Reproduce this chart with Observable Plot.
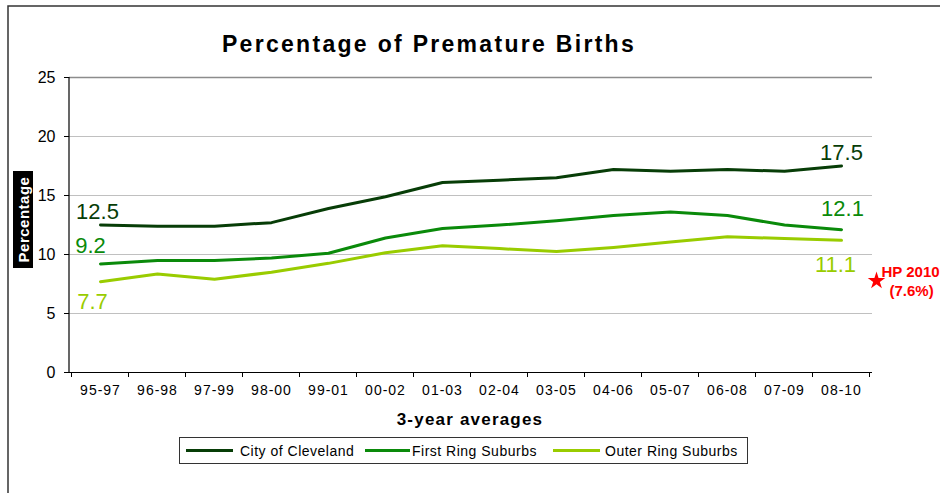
<!DOCTYPE html>
<html>
<head>
<meta charset="utf-8">
<script src="https://cdn.jsdelivr.net/npm/d3@7"></script>
<script src="https://cdn.jsdelivr.net/npm/@observablehq/plot@0.6"></script>
<style>
  html, body { margin: 0; padding: 0; background: #fff; }
  #chart { width: 940px; height: 493px; overflow: hidden; }
</style>
</head>
<body>
<div id="chart"></div>
<script>
const categories = ["95-97","96-98","97-99","98-00","99-01","00-02","01-03","02-04","03-05","04-06","05-07","06-08","07-09","08-10"];
const seriesNames = ["City of Cleveland","First Ring Suburbs","Outer Ring Suburbs"];
const cleveland = [12.5,12.4,12.4,12.7,13.9,14.9,16.1,16.3,16.5,17.2,17.05,17.2,17.05,17.5];
const firstRing = [9.2,9.5,9.5,9.7,10.1,11.4,12.2,12.5,12.85,13.3,13.6,13.3,12.5,12.1];
const outerRing = [7.7,8.35,7.9,8.5,9.25,10.15,10.75,10.5,10.25,10.6,11.05,11.5,11.35,11.2];
const endLabels = [17.5, 12.1, 11.1];
const yTicks = [0,5,10,15,20,25];
const hpTarget = 7.6;
const colors = ["#073d07","#0a8a0a","#99cc00"];

const valuesBySeries = [cleveland, firstRing, outerRing];
const data = [];
seriesNames.forEach((s, si) => categories.forEach((c, i) => data.push({series: s, cat: c, value: valuesBySeries[si][i]})));

const last = categories.length - 1;
const labelSpecs = [
  {si: 0, i: 0, text: cleveland[0], dx: -3, dy: -13},
  {si: 1, i: 0, text: firstRing[0], dx: -10, dy: -18},
  {si: 2, i: 0, text: outerRing[0], dx: -8, dy: 20},
  {si: 0, i: last, text: endLabels[0], dx: 0, dy: -13},
  {si: 1, i: last, text: endLabels[1], dx: 1, dy: -21},
  {si: 2, i: last, text: endLabels[2], dx: -6, dy: 25}
];
const labelMarks = labelSpecs.map(s => Plot.text([{cat: categories[s.i], value: valuesBySeries[s.si][s.i], t: s.text.toFixed(1)}], {
  x: "cat", y: "value", text: "t", fill: colors[s.si], dx: s.dx, dy: s.dy, fontSize: 22
}));

const plot = Plot.plot({
  width: 940,
  height: 493,
  marginLeft: 69,
  marginRight: 68,
  marginTop: 77,
  marginBottom: 121,
  style: {fontFamily: "'Liberation Sans', Arial, sans-serif", background: "#fff"},
  x: {type: "point", domain: categories, padding: 0.5, axis: null},
  y: {domain: [0, 25], axis: null},
  color: {domain: seriesNames, range: colors},
  marks: [
    Plot.ruleY(yTicks.filter(d => d > 0 && d < 25), {stroke: "#c0c0c0", strokeWidth: 1}),
    Plot.ruleY([25], {stroke: "#8c8c8c", strokeWidth: 1.5}),
    Plot.ruleX([0], {frameAnchor: "right", stroke: "#8c8c8c", strokeWidth: 1.5}),
    Plot.line(data, {x: "cat", y: "value", z: "series", stroke: "series", strokeWidth: 3}),
    ...labelMarks,
    Plot.axisY(yTicks, {anchor: "left", label: null, tickSize: 5, tickPadding: 9, fontSize: 16, fill: "#000", stroke: "#000"}),
    Plot.ruleY([0], {stroke: "#000", strokeWidth: 1.2}),
    Plot.axisX(categories, {anchor: "bottom", label: null, tickSize: 0, tickPadding: 13, fontSize: 14, fill: "#000"}),
    Plot.dot([hpTarget], {y: d => d, frameAnchor: "right", dx: 4, dy: -2, symbol: "star", fill: "#ff0000", r: 5.5}),
    Plot.text(["HP 2010"], {y: () => hpTarget, frameAnchor: "right", textAnchor: "start", dx: 9, dy: -11, fill: "#ff0000", fontWeight: "bold", fontSize: 15}),
    Plot.text(["(7.6%)"], {y: () => hpTarget, frameAnchor: "right", textAnchor: "start", dx: 17, dy: 8, fill: "#ff0000", fontWeight: "bold", fontSize: 15})
  ]
});

const svg = d3.select(plot);
const xs = plot.scale("x");
const step = (xs.apply(categories[1]) - xs.apply(categories[0]));
const yBottom = 493 - 121;
const left = 69;

svg.selectAll("g[aria-label='x-axis tick label']").attr("letter-spacing", "1px");

// left axis line (black)
svg.append("line").attr("x1", left).attr("x2", left).attr("y1", 77).attr("y2", yBottom).attr("stroke", "#000").attr("stroke-width", 1.2);
// x ticks at category boundaries
const gT = svg.append("g");
for (let i = 0; i <= categories.length; i++) {
  const xv = xs.apply(categories[0]) - step / 2 + i * step;
  gT.append("line").attr("x1", xv).attr("x2", xv).attr("y1", yBottom).attr("y2", yBottom + 5).attr("stroke", "#000");
}

// outer frame
svg.append("path").attr("d", "M8,493 L8,6 L940,6").attr("fill", "none").attr("stroke", "#333").attr("stroke-width", 1.5);

// title
svg.append("text").attr("x", 429).attr("y", 52).attr("text-anchor", "middle").attr("font-size", 23).attr("font-weight", "bold").attr("letter-spacing", "2.3px").attr("fill", "#000").text("Percentage of Premature Births");

// y label
svg.append("rect").attr("x", 13).attr("y", 171).attr("width", 20).attr("height", 97).attr("fill", "#000");
svg.append("text").attr("transform", "translate(28.5,219.5) rotate(-90)").attr("text-anchor", "middle").attr("font-size", 15).attr("font-weight", "bold").attr("letter-spacing", "0.5px").attr("fill", "#fff").text("Percentage");

// x title
svg.append("text").attr("x", 470).attr("y", 425).attr("text-anchor", "middle").attr("font-size", 17).attr("font-weight", "bold").attr("letter-spacing", "1.2px").attr("fill", "#000").text("3-year averages");

// legend
const lg = svg.append("g").attr("text-anchor", "start");
lg.append("rect").attr("x", 179.5).attr("y", 437.5).attr("width", 568).attr("height", 26).attr("fill", "#fff").attr("stroke", "#333").attr("stroke-width", 1);
const legendItems = [
  {x1: 186, x2: 233, tx: 240},
  {x1: 365, x2: 410, tx: 412},
  {x1: 553, x2: 600, tx: 605}
];
legendItems.forEach((it, i) => {
  lg.append("line").attr("x1", it.x1).attr("x2", it.x2).attr("y1", 450.5).attr("y2", 450.5).attr("stroke", colors[i]).attr("stroke-width", 3);
  lg.append("text").attr("x", it.tx).attr("y", 455.5).attr("text-anchor", "start").attr("font-size", 14).attr("letter-spacing", "0.5px").attr("fill", "#000").text(seriesNames[i]);
});

document.getElementById("chart").appendChild(plot);
</script>
</body>
</html>
